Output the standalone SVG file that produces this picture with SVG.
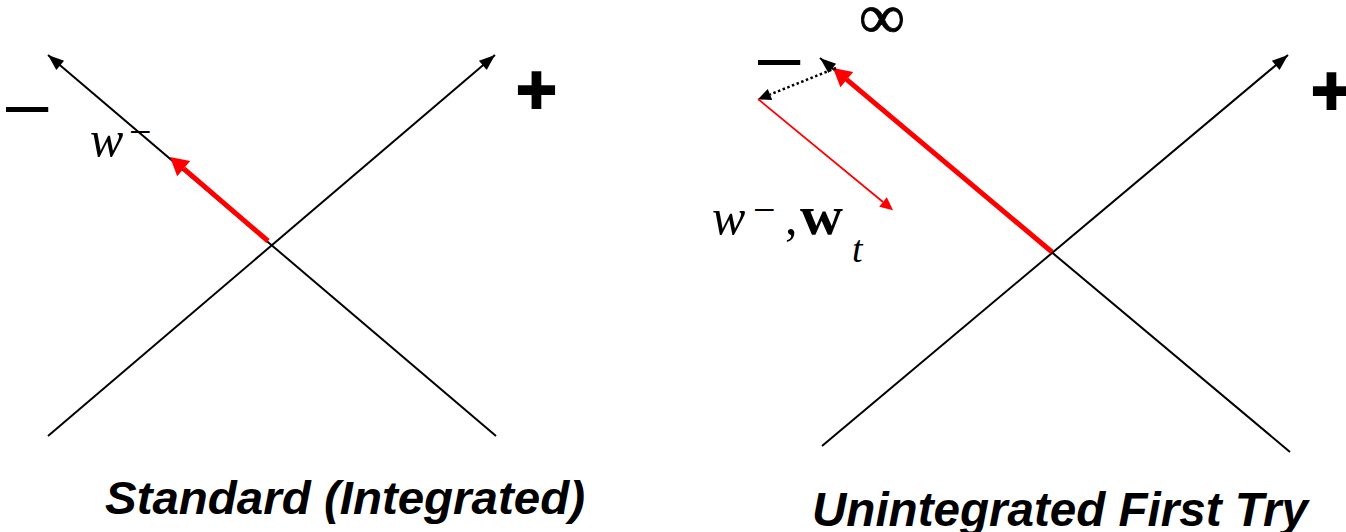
<svg xmlns="http://www.w3.org/2000/svg" width="1346" height="532" viewBox="0 0 1346 532">
<style>
.ax{stroke:#000;stroke-width:2;fill:none}
.red{stroke:#ff0000;fill:none}
.math{font-family:"Liberation Serif","DejaVu Serif",serif;fill:#000}
.sign{font-family:"Liberation Sans",Arial,sans-serif;fill:#000}
.title{font-family:"Liberation Sans",Arial,sans-serif;font-weight:bold;font-style:italic;fill:#000}
</style>
<defs>
<marker id="ahB" markerUnits="userSpaceOnUse" viewBox="-18 -8 20 16" refX="0" refY="0" markerWidth="20" markerHeight="16" orient="auto"><path d="M0,0 L-16,-6 L-16,6 Z" fill="#000"/></marker>
<marker id="ahRbig" markerUnits="userSpaceOnUse" viewBox="-2 -12 22 24" refX="0" refY="0" markerWidth="22" markerHeight="24" orient="auto"><path d="M18,0 L0,-10 L0,10 Z" fill="#ff0000"/></marker>
<marker id="ahRsm" markerUnits="userSpaceOnUse" viewBox="-2 -8 16 16" refX="0" refY="0" markerWidth="16" markerHeight="16" orient="auto"><path d="M13,0 L0,-6 L0,6 Z" fill="#ff0000"/></marker>
<marker id="ahBsm" markerUnits="userSpaceOnUse" viewBox="-2 -8 16 16" refX="0" refY="0" markerWidth="16" markerHeight="16" orient="auto"><path d="M13,0 L0,-6 L0,6 Z" fill="#000"/></marker>
</defs>
<g id="connectors">
<line class="ax" x1="48" y1="436" x2="495" y2="55" marker-end="url(#ahB)"/>
<line class="ax" x1="496" y1="436" x2="48" y2="55" marker-end="url(#ahB)"/>
<line class="red" stroke-width="5" x1="268" y1="241" x2="183.7" y2="168.7" marker-end="url(#ahRbig)"/>
<line class="ax" x1="822" y1="446" x2="1288" y2="55" marker-end="url(#ahB)"/>
<line class="ax" x1="1290" y1="452" x2="820" y2="58" marker-end="url(#ahB)"/>
<line class="red" stroke-width="5" x1="1052" y1="252" x2="846.8" y2="79.6" marker-end="url(#ahRbig)"/>
<line stroke="#000" stroke-width="2.5" stroke-dasharray="2.5 2.5" x1="836" y1="68" x2="770" y2="94.5" marker-end="url(#ahBsm)"/>
<line class="red" stroke-width="1.8" x1="758" y1="99" x2="883" y2="202" marker-end="url(#ahRsm)"/>
</g>
<g id="left-panel">
<text class="sign" x="6" y="129" font-size="76">–</text>
<text class="sign" x="516" y="114" font-size="70" font-weight="bold" stroke="#000" stroke-width="2">+</text>
<text class="math" x="90" y="156" font-size="50" font-style="italic">w</text>
<text class="math" x="129" y="145" font-size="40">−</text>
<text class="title" x="105" y="514" font-size="47" textLength="480" lengthAdjust="spacingAndGlyphs">Standard (Integrated)</text>
</g>
<g id="right-panel">
<text class="sign" x="758" y="82" font-size="76">–</text>
<text class="sign" x="1311" y="115" font-size="70" font-weight="bold" stroke="#000" stroke-width="2">+</text>
<text class="math" x="859" y="38" font-size="64" textLength="46" lengthAdjust="spacingAndGlyphs" stroke="#000" stroke-width="0.8">∞</text>
<text class="math" x="712" y="234" font-size="50" font-style="italic">w</text>
<text class="math" x="753" y="223" font-size="40">−</text>
<text class="math" x="785" y="234" font-size="50">,</text>
<text class="math" x="800" y="234" font-size="55" font-weight="bold" textLength="43" lengthAdjust="spacingAndGlyphs">w</text>
<text class="math" x="852" y="262" font-size="38" font-style="italic">t</text>
<text class="title" x="812" y="526" font-size="48" textLength="496" lengthAdjust="spacingAndGlyphs">Unintegrated First Try</text>
</g>
</svg>
